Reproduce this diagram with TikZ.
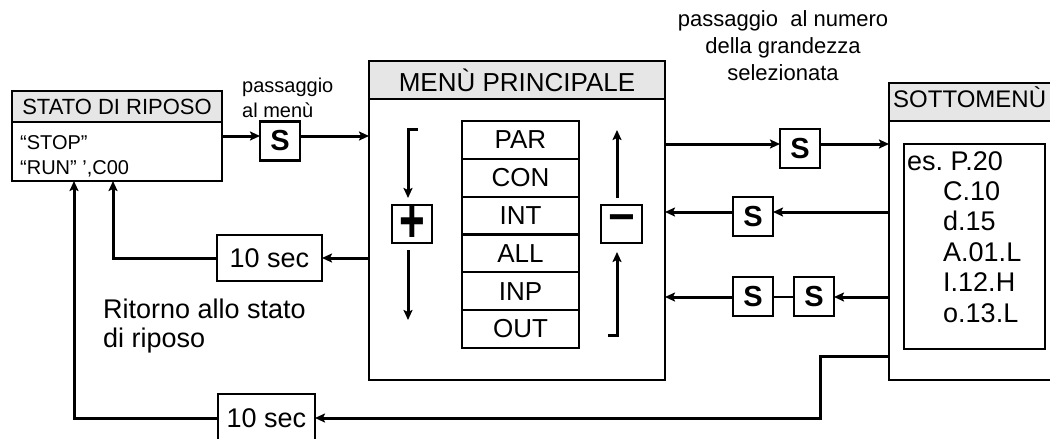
\documentclass[tikz,border=0pt]{standalone}
\usepackage{fontspec}
\setmainfont{Liberation Sans}
\usetikzlibrary{arrows.meta}
\definecolor{headgray}{HTML}{E6E6E6}
\newcommand{\fsz}[1]{\fontsize{#1pt}{#1pt}\selectfont}
\begin{document}
\begin{tikzpicture}[x=1pt,y=-1pt,
  box/.style={draw,line width=2.2pt,inner sep=0pt,outer sep=0pt},
  head/.style={box,fill=headgray},
  sbox/.style={box,minimum width=40pt,minimum height=39pt,font=\fsz{29}\bfseries},
  rowbox/.style={box,minimum width=117pt,minimum height=37.8pt,font=\fsz{26}},
  tbox/.style={box,font=\fsz{27}},
  conn/.style={line width=3pt,-{Stealth[length=10pt,width=9pt,inset=2pt]}},
  link/.style={line width=3pt},
  thinlink/.style={line width=1.8pt},
  txt/.style={anchor=base west,inner sep=0pt}]
\useasboundingbox (0,0) rectangle (1050,439);
\fill[white] (0,0) rectangle (1050,439);
\clip (0,0) rectangle (1050,439);

% ---------- STATO DI RIPOSO ----------
\node[box,minimum width=210pt,minimum height=90pt] (stato) at (117,136) {};
\node[head,minimum width=210pt,minimum height=31pt,font=\fsz{22}] (statoh) at (117,106.5) {STATO DI RIPOSO};
\node[txt,font=\fsz{20}] (stop) at (20,149) {“STOP”};
\node[txt,font=\fsz{20}] (run) at (20,174) {“RUN” ',C00};

% ---------- passaggio al menu ----------
\node[txt,font=\fsz{20}] (pass1) at (242,92) {passaggio};
\node[txt,font=\fsz{20}] (pass2) at (242,117) {al menù};
\node[sbox] (s1) at (280,141) {S};

% ---------- MENU PRINCIPALE ----------
\node[box,minimum width=296pt,minimum height=319pt] (menu) at (517,220.5) {};
\node[head,minimum width=296pt,minimum height=38pt,font=\fsz{26}] (menuh) at (517,80) {MENÙ PRINCIPALE};
\node[rowbox] (par) at (520.5,139.9) {PAR};
\node[rowbox] (con) at (520.5,177.7) {CON};
\node[rowbox] (int) at (520.5,215.5) {INT};
\node[rowbox] (all) at (520.5,253.3) {ALL};
\node[rowbox] (inp) at (520.5,291.1) {INP};
\node[rowbox] (out) at (520.5,328.9) {OUT};
\node[box,minimum width=40pt,minimum height=38pt] (plus) at (412,224) {\scalebox{1}[1.45]{\fsz{44}\bfseries +}};
\node[box,minimum width=41pt,minimum height=38pt,font=\fsz{46}\bfseries] (minus) at (621.5,224) {−};

\coordinate (pa) at (418,129);
\coordinate (pb) at (408,129);
\coordinate (pc) at (408,198);
\coordinate (pd) at (408,250);
\coordinate (pe) at (408,320);
\draw[conn] (pa) -- (pb) -- (pc);
\draw[conn] (pd) -- (pe);
\coordinate (ma) at (617,198);
\coordinate (mb) at (617,130);
\coordinate (mc) at (608,335);
\coordinate (md) at (617,335);
\coordinate (me) at (617,252);
\draw[conn] (ma) -- (mb);
\draw[conn] (mc) -- (md) -- (me);

% ---------- top right label ----------
\node[anchor=base,inner sep=0pt,font=\fsz{22}] (lab1) at (783,27) {passaggio\ \ al numero};
\node[anchor=base,inner sep=0pt,font=\fsz{22}] (lab2) at (783,53) {della grandezza};
\node[anchor=base,inner sep=0pt,font=\fsz{22}] (lab3) at (783,80) {selezionata};

% ---------- SOTTOMENU ----------
\node[box,minimum width=171pt,minimum height=297pt] (sotto) at (974.5,231.5) {};
\node[head,minimum width=171pt,minimum height=38pt] (sottoh) at (974.5,102) {};
\node[txt,font=\fsz{24}] (sottot) at (893,107) {SOTTOMENÙ};
\node[box,minimum width=141pt,minimum height=205pt] (inner) at (974.5,246.5) {};
\node[txt,font=\fsz{27}] (e1) at (907,170) {es.\ P.20};
\node[txt,font=\fsz{27}] (e2) at (943,200.4) {C.10};
\node[txt,font=\fsz{27}] (e3) at (943,230.8) {d.15};
\node[txt,font=\fsz{27}] (e4) at (943,261.2) {A.01.L};
\node[txt,font=\fsz{27}] (e5) at (943,291.6) {I.12.H};
\node[txt,font=\fsz{27}] (e6) at (943,322) {o.13.L};

% ---------- S boxes right ----------
\node[sbox] (s2) at (800,148.5) {S};
\node[sbox] (s3) at (753,216.5) {S};
\node[sbox] (s4) at (753,296.5) {S};
\node[sbox] (s5) at (814,296.5) {S};

% ---------- 10 sec boxes ----------
\node[tbox,minimum width=105pt,minimum height=46pt] (t1) at (269.5,258) {10 sec};
\node[tbox,minimum width=97pt,minimum height=48pt] (t2) at (266.5,418) {10 sec};

\node[txt,font=\fsz{27}] (rit1) at (103,318) {Ritorno allo stato};
\node[txt,font=\fsz{27}] (rit2) at (103,347) {di riposo};

% ---------- connectors ----------
\coordinate (r1) at (0,144);
\coordinate (r2) at (0,212);
\coordinate (r3) at (0,297);
\coordinate (bend) at (820,356);
\coordinate (lb) at (74,0);
\coordinate (lc) at (113,0);

\draw[conn] (stato.east) -- (stato.east -| s1.west);
\draw[conn] (s1.east |- stato.east) -- (menu.west |- stato.east);

\draw[conn] (menu.east |- r1) -- (s2.west |- r1);
\draw[conn] (s2.east |- r1) -- (sotto.west |- r1);

\draw[conn] (sotto.west |- r2) -- (s3.east |- r2);
\draw[conn] (s3.west |- r2) -- (menu.east |- r2);

\draw[conn] (sotto.west |- r3) -- (s5.east |- r3);
\draw[thinlink] (s5.west |- r3) -- (s4.east |- r3);
\draw[conn] (s4.west |- r3) -- (menu.east |- r3);

\draw[conn] (sotto.west |- bend) -- (bend) -- (bend |- t2.east) -- (t2.east);
\draw[conn] (t2.west) -| (lb |- stato.south);

\draw[conn] (menu.west |- t1.east) -- (t1.east);
\draw[conn] (t1.west) -| (lc |- stato.south);
\end{tikzpicture}
\end{document}
